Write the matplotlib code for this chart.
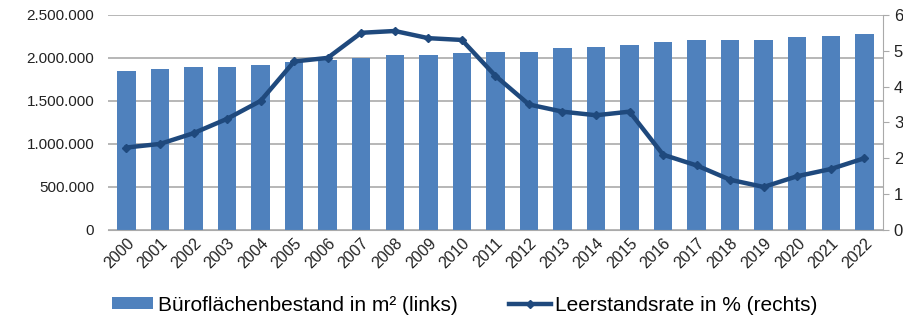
import matplotlib
matplotlib.use("Agg")
import matplotlib.pyplot as plt
from matplotlib.ticker import FuncFormatter

years = [str(y) for y in range(2000, 2023)]
bestand = [1850000, 1870000, 1890000, 1890000, 1915000, 1955000, 1980000, 1995000,
           2035000, 2035000, 2055000, 2070000, 2070000, 2110000, 2130000, 2150000,
           2190000, 2210000, 2210000, 2210000, 2240000, 2260000, 2280000]
leerstand = [2.3, 2.4, 2.7, 3.1, 3.6, 4.7, 4.8, 5.5, 5.55, 5.35, 5.3, 4.3, 3.5, 3.3,
             3.2, 3.3, 2.1, 1.8, 1.4, 1.2, 1.5, 1.7, 2.0]

plt.rcParams['font.family'] = ['Liberation Sans', 'DejaVu Sans']

fig = plt.figure(figsize=(9.04, 3.23), dpi=100)
ax = fig.add_axes([0.1195, 0.288, 0.857, 0.666])
x = list(range(len(years)))
ax.bar(x, bestand, width=0.55, color='#4F81BD', zorder=2,
       label='Büroflächenbestand in m² (links)')
ax.set_ylim(0, 2500000)
ax.set_yticks([0, 500000, 1000000, 1500000, 2000000, 2500000])
ax.yaxis.set_major_formatter(FuncFormatter(lambda v, p: f"{int(v):,}".replace(",", ".")))
ax.set_xlim(-0.55, len(years) - 0.45)
ax.set_xticks(x)
ax.set_xticklabels(years, rotation=45, ha='right', rotation_mode='anchor', fontsize=11.5)
ax.grid(axis='y', color='#AAAAAA', linewidth=1.2, zorder=0)
for s in ['top', 'left', 'right']:
    ax.spines[s].set_visible(False)
ax.spines['bottom'].set_color('#AAAAAA')
ax.tick_params(axis='x', length=0, colors='#222222', pad=4)
ax.tick_params(axis='y', length=0, labelsize=11, colors='#222222', pad=10)

ax2 = ax.twinx()
ax2.plot(x, leerstand, color='#1F497D', linewidth=3.2, marker='D', markersize=4,
         zorder=3, label='Leerstandsrate in % (rechts)')
ax2.set_ylim(0, 6)
ax2.set_yticks(range(0, 7))
for s in ['top', 'left', 'bottom']:
    ax2.spines[s].set_visible(False)
ax2.spines['right'].set_color('#AAAAAA')
ax2.tick_params(axis='y', length=4, color='#AAAAAA', labelsize=12,
                labelcolor='#222222', pad=4)

h1, l1 = ax.get_legend_handles_labels()
h2, l2 = ax2.get_legend_handles_labels()
fig.legend(h1 + h2, l1 + l2, loc='center', bbox_to_anchor=(0.514, 0.055), ncol=2,
           frameon=False, fontsize=15, handlelength=2.0, handleheight=0.5,
           handletextpad=0.2, columnspacing=2.5, borderpad=0)

fig.savefig('out.png', dpi=100)
